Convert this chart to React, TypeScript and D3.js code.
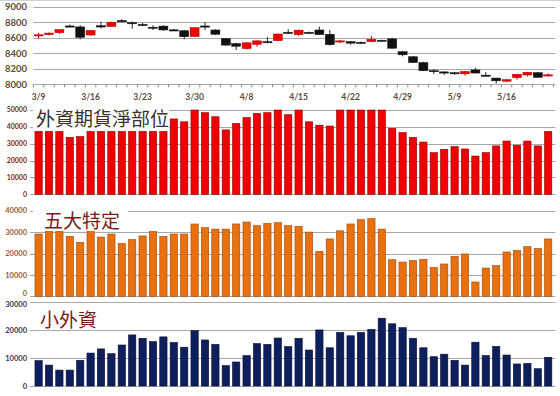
import React, { useRef, useEffect } from 'react';
import * as d3 from 'd3';

// trading days shown on the category axis
const dates = [
  '3/9', '3/10', '3/11', '3/14', '3/15', '3/16', '3/17', '3/18', '3/21', '3/22',
  '3/23', '3/24', '3/25', '3/28', '3/29', '3/30', '3/31', '4/1', '4/6', '4/7',
  '4/8', '4/11', '4/12', '4/13', '4/14', '4/15', '4/18', '4/19', '4/20', '4/21',
  '4/22', '4/25', '4/26', '4/27', '4/28', '4/29', '5/3', '5/4', '5/5', '5/6',
  '5/9', '5/10', '5/11', '5/12', '5/13', '5/16', '5/17', '5/18', '5/19', '5/20',
];
const dateTicks = ['3/9', '3/16', '3/23', '3/30', '4/8', '4/15', '4/22', '4/29', '5/9', '5/16'];

const opens = [
  8635, 8640, 8665, 8752, 8740, 8635, 8755, 8745, 8822, 8795,
  8772, 8736, 8750, 8702, 8690, 8615, 8752, 8700, 8590, 8525,
  8460, 8515, 8550, 8562, 8670, 8640, 8670, 8700, 8645, 8545,
  8550, 8542, 8550, 8568, 8585, 8420, 8355, 8280, 8177, 8160,
  8150, 8135, 8185, 8118, 8080, 8040, 8085, 8120, 8150, 8118,
];
const highs = [
  8665, 8668, 8712, 8770, 8760, 8700, 8806, 8805, 8840, 8810,
  8790, 8760, 8760, 8712, 8700, 8735, 8800, 8708, 8595, 8535,
  8540, 8565, 8613, 8655, 8709, 8705, 8680, 8742, 8700, 8568,
  8558, 8550, 8622, 8575, 8600, 8425, 8360, 8290, 8195, 8168,
  8160, 8172, 8214, 8160, 8085, 8068, 8135, 8160, 8160, 8140,
];
const lows = [
  8590, 8630, 8650, 8745, 8580, 8630, 8720, 8740, 8800, 8716,
  8750, 8700, 8690, 8688, 8580, 8610, 8700, 8635, 8500, 8442,
  8450, 8485, 8528, 8555, 8655, 8625, 8655, 8635, 8500, 8530,
  8510, 8520, 8545, 8555, 8460, 8360, 8275, 8170, 8132, 8120,
  8125, 8110, 8140, 8100, 8010, 8030, 8060, 8100, 8085, 8100,
];
const closes = [
  8638, 8660, 8705, 8750, 8605, 8695, 8738, 8800, 8805, 8785,
  8768, 8732, 8700, 8698, 8613, 8730, 8748, 8645, 8505, 8490,
  8535, 8560, 8535, 8648, 8666, 8698, 8666, 8640, 8510, 8560,
  8530, 8540, 8580, 8564, 8465, 8380, 8280, 8175, 8173, 8156,
  8135, 8165, 8145, 8114, 8045, 8060, 8130, 8155, 8090, 8122,
];
const priceTicks = [8000, 8200, 8400, 8600, 8800, 9000];

// 外資期貨淨部位
const foreignNet = [
  37300, 37300, 37300, 33800, 34200, 37300, 37300, 37300, 37300, 37300,
  37300, 37300, 37300, 44700, 43000, 51000, 48400, 46000, 38200, 42000,
  45500, 48000, 48400, 51000, 47200, 51000, 43000, 41000, 40500, 51000,
  51000, 51000, 51000, 51000, 39100, 36600, 33800, 31000, 24700, 26700,
  28300, 26900, 22700, 24700, 28700, 31600, 29100, 31600, 28700, 37200,
];
// 五大特定
const topFive = [
  29100, 30300, 30300, 28000, 25200, 30300, 27700, 29100, 24700, 26500,
  28200, 30300, 28000, 29100, 29100, 33800, 32100, 31400, 31400, 33800,
  34700, 33000, 34100, 34400, 33000, 32700, 30000, 21000, 26800, 30600,
  33800, 35800, 36300, 31400, 17100, 16000, 16700, 17300, 13500, 15100,
  18700, 19800, 6700, 13200, 14300, 20700, 21500, 23200, 22300, 26800,
];
// 小外資
const smallForeign = [
  9100, 7500, 5700, 5700, 9200, 11800, 13300, 11600, 14700, 18300,
  17100, 15900, 17600, 15600, 13900, 19900, 16500, 14900, 7300, 8600,
  10900, 15200, 14900, 17200, 14100, 17100, 12900, 20100, 13700, 19200,
  18000, 19200, 20300, 24300, 22300, 20900, 17100, 13700, 10500, 11400,
  9200, 7500, 15700, 10900, 14200, 11100, 7900, 8100, 6200, 10300,
];

const W = 560;
const H = 396;
const numFont = 'Lato, "Liberation Sans", sans-serif';
const cjkFont = '"Noto Sans CJK TC", "Noto Sans CJK SC", sans-serif';

const App = () => {
  const svgRef = useRef(null);

  useEffect(() => {
    const svg = d3.select(svgRef.current);
    svg.selectAll('*').remove();

    const left = 33.4;
    const right = 553.4;
    const x = d3.scaleBand().domain(dates).range([left, right]).paddingInner(0.3).paddingOuter(0.15);
    const cx = (d) => x(d) + x.bandwidth() / 2;
    const step = x.step();

    svg.append('rect').attr('width', W).attr('height', H).attr('fill', '#fff');
    svg.append('line').attr('x1', 0).attr('x2', W).attr('y1', 0.5).attr('y2', 0.5).attr('stroke', '#d0d0d0');

    // ---- candlestick panel ----
    const y = d3.scaleLinear().domain([8000, 9000]).range([84.3, 6.7]);
    const top = svg.append('g');

    top.selectAll('line.grid')
      .data(priceTicks)
      .join('line')
      .attr('x1', left).attr('x2', right + 2)
      .attr('y1', d => Math.round(y(d)) + 0.5).attr('y2', d => Math.round(y(d)) + 0.5)
      .attr('stroke', '#a8a8a8').attr('stroke-width', 1);

    top.selectAll('text.ylab')
      .data(priceTicks)
      .join('text')
      .attr('x', 27).attr('y', d => y(d))
      .attr('dy', '0.35em').attr('text-anchor', 'end')
      .attr('font-family', numFont).attr('font-size', 9.5).attr('font-weight', 'bold')
      .attr('fill', '#5c4a3a')
      .text(d => d);

    // tick marks at category boundaries
    top.selectAll('line.tick')
      .data(d3.range(dates.length + 1))
      .join('line')
      .attr('x1', i => left + i * step).attr('x2', i => left + i * step)
      .attr('y1', y(8000)).attr('y2', y(8000) + 3)
      .attr('stroke', '#888');

    top.selectAll('text.xlab')
      .data(dateTicks)
      .join('text')
      .attr('x', d => cx(d)).attr('y', 100)
      .attr('text-anchor', 'middle')
      .attr('font-family', numFont).attr('font-size', 8.5).attr('font-weight', 'bold')
      .attr('fill', '#5c4a3a')
      .text(d => d);

    const candles = dates.map((d, i) => ({ d, o: opens[i], h: highs[i], l: lows[i], c: closes[i] }));
    const bodyW = 9;
    const g = top.selectAll('g.candle').data(candles).join('g');
    g.append('line')
      .attr('x1', d => cx(d.d)).attr('x2', d => cx(d.d))
      .attr('y1', d => y(d.h)).attr('y2', d => y(d.l))
      .attr('stroke', d => (d.c > d.o ? '#b00000' : '#1f2e1f')).attr('stroke-width', 1);
    g.append('rect')
      .attr('x', d => cx(d.d) - bodyW / 2)
      .attr('y', d => y(Math.max(d.o, d.c)))
      .attr('width', bodyW)
      .attr('height', d => Math.max(1.2, Math.abs(y(d.o) - y(d.c))))
      .attr('fill', d => (d.c > d.o ? '#ee0000' : '#111'))
      .attr('stroke', d => (d.c > d.o ? '#b00000' : '#111'))
      .attr('stroke-width', 0.5);

    // ---- bar panels ----
    const panels = [
      {
        values: foreignNet, max: 50000, y0: 194.3, y1: 110, ticks: [0, 10000, 20000, 30000, 40000, 50000],
        fill: '#f00000', stroke: '#8a0000', labelColor: '#7a2a2a', labelSize: 7,
        title: '外資期貨淨部位', titleColor: '#3a302c', tx: 36, ty: 126, box: [33, 108, 136, 21],
      },
      {
        values: topFive, max: 40000, y0: 296.3, y1: 210.7, ticks: [0, 10000, 20000, 30000, 40000],
        fill: '#e8700f', stroke: '#9a4a08', labelColor: '#9a6030', labelSize: 7.5,
        title: '五大特定', titleColor: '#7a1a1a', tx: 44, ty: 228, box: [33, 209, 95, 22],
      },
      {
        values: smallForeign, max: 30000, y0: 386, y1: 302.3, ticks: [0, 10000, 20000, 30000],
        fill: '#0e1f5e', stroke: '#050d30', labelColor: '#3a3a48', labelSize: 7.5,
        title: '小外資', titleColor: '#7a1a1a', tx: 40, ty: 327, box: [33, 306, 66, 23],
      },
    ];

    panels.forEach((p, pi) => {
      const yb = d3.scaleLinear().domain([0, p.max]).range([p.y0, p.y1]).clamp(true);
      const pg = svg.append('g');

      pg.selectAll('line.grid')
        .data(p.ticks)
        .join('line')
        .attr('x1', 30).attr('x2', right + 2)
        .attr('y1', d => Math.round(yb(d)) + 0.5).attr('y2', d => Math.round(yb(d)) + 0.5)
        .attr('stroke', '#a8a8a8');

      // the orange "0" and the navy top label sit close together: nudge them apart
      const dyFor = (d) => {
        if (pi === 1 && d === 0) return '0em';
        if (pi === 2 && d === p.max) return '0.65em';
        return '0.35em';
      };

      pg.selectAll('text.ylab')
        .data(p.ticks)
        .join('text')
        .attr('x', 27).attr('y', d => yb(d))
        .attr('dy', dyFor).attr('text-anchor', 'end')
        .attr('font-family', numFont).attr('font-size', p.labelSize).attr('font-weight', 'bold')
        .attr('fill', p.labelColor)
        .text(d => d);

      pg.selectAll('rect.bar')
        .data(p.values)
        .join('rect')
        .attr('x', (v, i) => x(dates[i]))
        .attr('y', v => yb(v))
        .attr('width', x.bandwidth())
        .attr('height', v => yb(0) - yb(v))
        .attr('fill', p.fill)
        .attr('stroke', p.stroke)
        .attr('stroke-width', 0.6);

      const [bx, by, bw, bh] = p.box;
      pg.append('rect').attr('x', bx).attr('y', by).attr('width', bw).attr('height', bh).attr('fill', '#fff');
      pg.append('text')
        .attr('x', p.tx).attr('y', p.ty)
        .attr('font-family', cjkFont).attr('font-size', 19)
        .attr('fill', p.titleColor)
        .text(p.title);
    });
  }, []);

  return (
    <svg
      ref={svgRef}
      width={W}
      height={H}
      style={{ position: 'absolute', left: 0, top: 0, display: 'block' }}
    ></svg>
  );
};

export default App;
